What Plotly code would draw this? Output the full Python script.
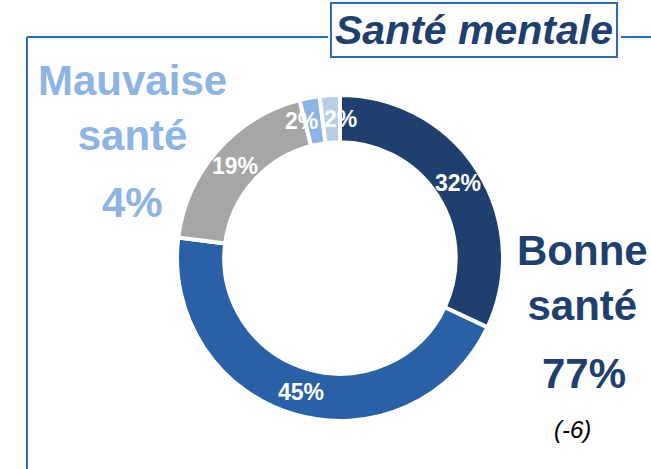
import math
import plotly.graph_objects as go

labels = ["Très bonne", "Assez bonne", "Moyenne", "Assez mauvaise", "Très mauvaise"]
values = [32, 45, 19, 2, 2]
texts = ["32%", "45%", "19%", "2%", "2%"]
colors = ["#1F3F6E", "#2A61A6", "#A6A6A6", "#8DB4E2", "#B9CDE6"]

title = "Santé mentale"
bad_label = "Mauvaise<br>santé"
bad_value = "4%"
good_label = "Bonne<br>santé"
good_value = "77%"
good_delta = "(-6)"

W, H = 651, 469
cx, cy, r = 340, 258, 163
hole = 0.71
# the two tiny slices have their labels pushed apart a little, as in the original
label_nudge = {3: -12, 4: 9}

def px(x): return x / W
def py(y): return 1 - y / H

fig = go.Figure(go.Pie(
    labels=labels, values=values,
    textinfo="none",
    hole=hole, sort=False, direction="clockwise", rotation=0,
    marker=dict(colors=colors, line=dict(color="white", width=4)),
    hoverinfo="label+percent",
    domain=dict(x=[px(cx - r), px(cx + r)], y=[py(cy + r), py(cy - r)]),
    showlegend=False,
))

# slice labels on the middle of the ring, at each slice's mid angle
total = sum(values)
cum = 0
rmid = r * (1 + hole) / 2
for i, (v, t) in enumerate(zip(values, texts)):
    a = 2 * math.pi * (cum + v / 2) / total
    cum += v
    x = cx + rmid * math.sin(a) + label_nudge.get(i, 0)
    y = cy - rmid * math.cos(a)
    fig.add_annotation(text=t, x=px(x), y=py(y),
                       xref="paper", yref="paper", showarrow=False,
                       xanchor="center", yanchor="middle",
                       font=dict(family="Liberation Sans", size=23, color="white", weight="bold"))

fig.update_layout(
    width=W, height=H,
    margin=dict(l=0, r=0, t=0, b=0),
    paper_bgcolor="white", plot_bgcolor="white",
    font=dict(family="Liberation Sans"),
)

line = dict(color="#2E6BB5", width=2)
fig.add_shape(type="line", xref="paper", yref="paper", x0=px(27), x1=px(27), y0=py(37), y1=0, line=line)
fig.add_shape(type="line", xref="paper", yref="paper", x0=px(27), x1=px(328), y0=py(37), y1=py(37), line=line)
fig.add_shape(type="line", xref="paper", yref="paper", x0=px(621), x1=1, y0=py(37), y1=py(37), line=line)

def note(text, x, y, size, color, bold=True, italic=False, **kw):
    fig.add_annotation(text=text, x=px(x), y=py(y), xref="paper", yref="paper",
                       showarrow=False, xanchor="center", yanchor="middle",
                       font=dict(family="Liberation Sans", size=size, color=color,
                                 weight="bold" if bold else "normal",
                                 style="italic" if italic else "normal"), **kw)

note(title, 474, 30, 41, "#1F3F6E", italic=True,
     bordercolor="#2E6BB5", borderwidth=2, borderpad=3, bgcolor="white")
note(bad_label, 132, 108, 42, "#8DB4E2", align="center")
note(bad_value, 132, 203, 42, "#8DB4E2")
note(good_label, 582, 278, 42, "#1F3F6E", align="center")
note(good_value, 584, 373, 42, "#1F3F6E")
note(good_delta, 572, 429, 24, "black", bold=False, italic=True)

fig.write_html("out.html", config={"displayModeBar": False},
               post_script="document.body.style.margin='0';")
